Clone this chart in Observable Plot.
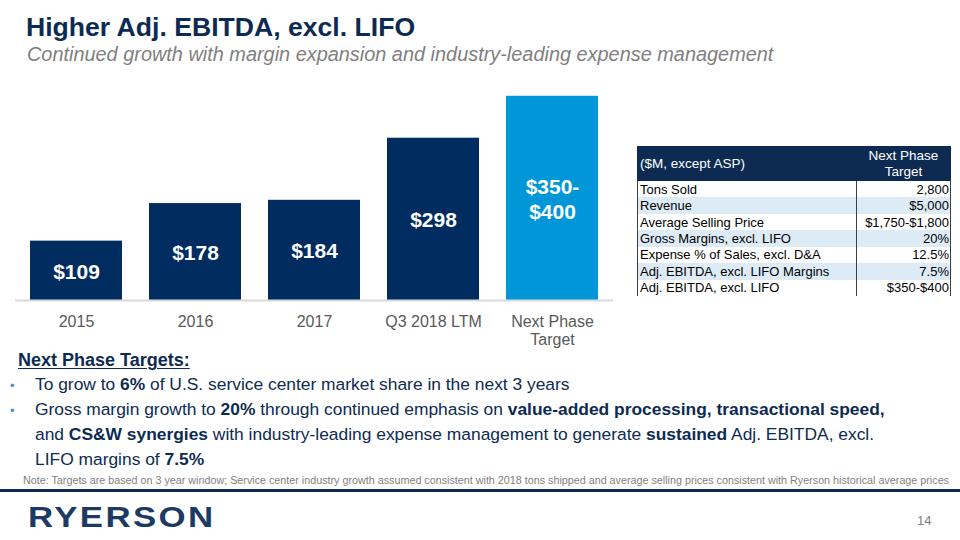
<!DOCTYPE html>
<html>
<head>
<meta charset="utf-8">
<script src="https://cdn.jsdelivr.net/npm/d3@7"></script>
<script src="https://cdn.jsdelivr.net/npm/@observablehq/plot@0.6"></script>
<style>
  body { margin: 0; background: #fff; }
  #page { position: relative; width: 960px; height: 540px; overflow: hidden; font-family: "Liberation Sans", Arial, sans-serif; background: #fff; }
  .abs { position: absolute; white-space: nowrap; line-height: 1; }
  #title { left: 26px; top: 13.5px; font-size: 26.6px; font-weight: bold; color: #0d2b52; }
  #subtitle { left: 27px; top: 45px; font-size: 19.9px; font-style: italic; color: #7f7f7f; }
  #chart { position: absolute; left: 0; top: 80px; }
  #tbl { position: absolute; left: 637px; top: 146px; width: 314px; font-size: 13px; color: #000; }
  #tbl .hdr { position: absolute; left: 0; top: 0; width: 314px; height: 35px; background: #0d2b52; color: #fff; }
  #tbl .row { position: absolute; left: 0; width: 314px; height: 16.43px; }
  #tbl .cell { position: absolute; top: 0; height: 100%; display: flex; align-items: center; white-space: nowrap; }
  #tbl .vline { position: absolute; top: 35px; width: 1px; background: #404040; }
  #heading { left: 18px; top: 351px; font-size: 18px; font-weight: bold; color: #0d2b52; text-decoration: underline; text-underline-offset: 2px; }
  .bl { position: absolute; left: 35px; font-size: 17.4px; color: #0d2b52; white-space: nowrap; line-height: 1; }
  .bl b { font-weight: bold; }
  .dot { position: absolute; left: 10px; font-size: 13px; color: #4f8fc9; line-height: 1; }
  #note { left: 23px; top: 474.5px; font-size: 10.75px; color: #7f7f7f; }
  #rule { position: absolute; left: 0; top: 489px; width: 960px; height: 3px; background: #0d2b52; }
  #logo { left: 28px; top: 503px; font-size: 29px; font-weight: bold; color: #1c3a63; letter-spacing: 2px; transform: scaleX(1.2); transform-origin: 0 0; }
  #pnum { left: 917px; top: 514px; font-size: 13px; color: #7f7f7f; }
</style>
</head>
<body>
<div id="page">
  <div id="title" class="abs">Higher Adj. EBITDA, excl. LIFO</div>
  <div id="subtitle" class="abs">Continued growth with margin expansion and industry-leading expense management</div>
  <div id="chart"></div>
  <div id="tbl"></div>
  <div id="heading" class="abs">Next Phase Targets:</div>
  <span class="dot" style="top:379px">•</span>
  <div class="bl" style="top:376px">To grow to <b>6%</b> of U.S. service center market share in the next 3 years</div>
  <span class="dot" style="top:404px">•</span>
  <div class="bl" style="top:401px">Gross margin growth to <b>20%</b> through continued emphasis on <b>value-added processing, transactional speed,</b></div>
  <div class="bl" style="top:426px">and <b>CS&amp;W synergies</b> with industry-leading expense management to generate <b>sustained</b> Adj. EBITDA, excl.</div>
  <div class="bl" style="top:451px">LIFO margins of <b>7.5%</b></div>
  <div id="note" class="abs">Note: Targets are based on 3 year window; Service center industry growth assumed consistent with 2018 tons shipped and average selling prices consistent with Ryerson historical average prices</div>
  <div id="rule"></div>
  <div id="logo" class="abs">RYERSON</div>
  <div id="pnum" class="abs">14</div>
</div>
<script>
// ---- Chart data ----
const categories = ["2015", "2016", "2017", "Q3 2018 LTM", "Next Phase Target"];
const tickLabels = ["2015", "2016", "2017", "Q3 2018 LTM", "Next Phase\nTarget"];
const ebitda = [109, 178, 184, 298, 375];
const valueLabels = ["$109", "$178", "$184", "$298", "$350-\n$400"];
const barKind = ["Actual", "Actual", "Actual", "Actual", "Target"];

// ---- Table data ----
const tableHeader = ["($M, except ASP)", "Next Phase\nTarget"];
const tableMetrics = ["Tons Sold", "Revenue", "Average Selling Price", "Gross Margins, excl. LIFO", "Expense % of Sales, excl. D&A", "Adj. EBITDA, excl. LIFO Margins", "Adj. EBITDA, excl. LIFO"];
const tableTargets = ["2,800", "$5,000", "$1,750-$1,800", "20%", "12.5%", "7.5%", "$350-$400"];

const data = categories.map((c, i) => ({category: c, value: ebitda[i], label: valueLabels[i], kind: barKind[i]}));

const chart = Plot.plot({
  width: 620,
  height: 270,
  marginLeft: 15,
  marginRight: 7,
  marginTop: 0,
  marginBottom: 50,
  style: {fontFamily: "'Liberation Sans', Arial, sans-serif", background: "transparent"},
  x: {domain: categories, paddingInner: 0.23, paddingOuter: 0.117},
  y: {domain: [0, 404], axis: null},
  color: {domain: ["Actual", "Target"], range: ["#002c5f", "#0096d8"]},
  marks: [
    Plot.barY(data, {x: "category", y: "value", fill: "kind"}),
    Plot.ruleY([0], {stroke: "#d9d9d9", strokeWidth: 2}),
    Plot.text(data, {x: "category", y: d => d.value / 2, text: "label", fill: "white", fontSize: 21, fontWeight: "bold", lineHeight: 1.19}),
    Plot.axisX({tickSize: 0, tickPadding: 14, fontSize: 16, fill: "#595959", lineHeight: 1.125, label: null,
      tickFormat: d => tickLabels[categories.indexOf(d)]})
  ]
});
document.getElementById("chart").appendChild(chart);

// ---- Table ----
const tbl = document.getElementById("tbl");
const colSplit = 219; // divider offset within table
const hdr = document.createElement("div");
hdr.className = "hdr";
hdr.innerHTML = `<div class="cell" style="left:3px;font-size:13.5px">${tableHeader[0]}</div>` +
  `<div class="cell" style="left:${colSplit}px;width:${314 - colSplit}px;justify-content:center;text-align:center;font-size:13.5px;line-height:16px">${tableHeader[1].replace("\n", "<br>")}</div>`;
tbl.appendChild(hdr);
const rowH = 16.43;
tableMetrics.forEach((m, i) => {
  const r = document.createElement("div");
  r.className = "row";
  r.style.top = (35 + i * rowH) + "px";
  r.style.background = i % 2 === 1 ? "#ddebf7" : "#ffffff";
  const left = document.createElement("div");
  left.className = "cell"; left.style.left = "3px"; left.textContent = m;
  const right = document.createElement("div");
  right.className = "cell"; right.style.right = "2px"; right.textContent = tableTargets[i];
  r.appendChild(left); r.appendChild(right);
  tbl.appendChild(r);
});
[0, colSplit, 313].forEach(x => {
  const v = document.createElement("div");
  v.className = "vline";
  v.style.left = x + "px";
  v.style.height = (tableMetrics.length * rowH) + "px";
  tbl.appendChild(v);
});
</script>
</body>
</html>
